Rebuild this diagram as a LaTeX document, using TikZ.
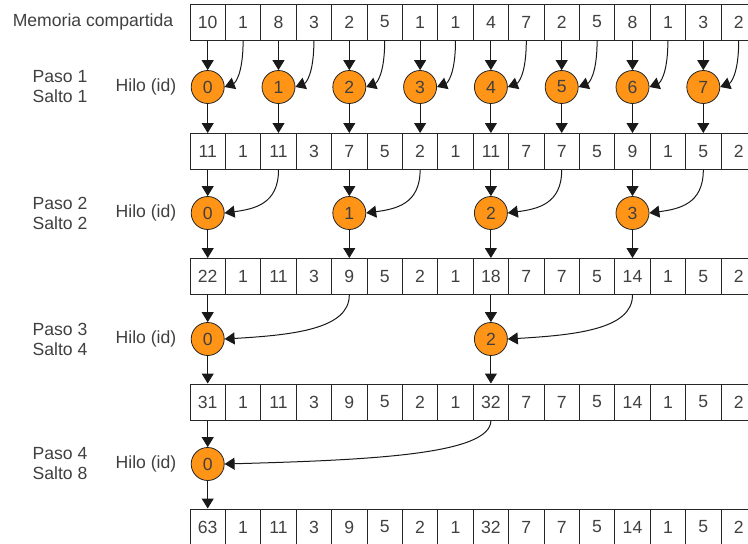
\documentclass[tikz,border=0pt]{standalone}
\usepackage{fontspec}
\setmainfont{Liberation Sans}
\usetikzlibrary{arrows.meta}
\definecolor{naranja}{RGB}{255,148,22}
\definecolor{texto}{RGB}{64,64,64}
\tikzset{
  celda/.style={draw=black!85, line width=1pt, minimum width=35.4pt, minimum height=36pt, inner sep=0pt, text=texto},
  hilo/.style={circle, draw=black!85, line width=0.8pt, fill=naranja, minimum size=33pt, inner sep=0pt, text=texto},
  flecha/.style={-{Triangle[length=10pt,width=12pt]}, line width=1pt, black!90},
}
\begin{document}
\begin{tikzpicture}[x=1pt,y=-1pt,font=\fontsize{17.6}{20}\selectfont]
\useasboundingbox (0,0) rectangle (748,544);
\clip (0,0) rectangle (748,544);
\node[text=texto] (memoria) at (93,22) {Memoria compartida};
% shared memory after each step
\foreach \r/\yy/\vals in {0/22/{10,1,8,3,2,5,1,1,4,7,2,5,8,1,3,2},
                          1/151.5/{11,1,11,3,7,5,2,1,11,7,7,5,9,1,5,2},
                          2/276.5/{22,1,11,3,9,5,2,1,18,7,7,5,14,1,5,2},
                          3/402/{31,1,11,3,9,5,2,1,32,7,7,5,14,1,5,2},
                          4/527/{63,1,11,3,9,5,2,1,32,7,7,5,14,1,5,2}} {
  \foreach \v [count=\c from 0] in \vals {
    \node[celda] (m\r-\c) at ({207.7+35.4*\c}, \yy) {\v};
  }
}
% threads: step, y, stride, ids
\foreach \s/\yy/\salto/\ids in {1/87/1/{0,1,2,3,4,5,6,7},
                                2/213/2/{0,1,2,3},
                                3/339/4/{0,2},
                                4/464/8/{0}} {
  \node[text=texto, align=center] (paso\s) at (60,\yy) {Paso \s\\Salto \salto};
  \node[text=texto] (hilo\s) at (146,\yy) {Hilo (id)};
  \pgfmathtruncatemacro\antes{\s-1}
  \pgfmathsetmacro\dx{0.55*(35.4*\salto-16.5)}
  \foreach \id [count=\i from 0] in \ids {
    \pgfmathtruncatemacro\dst{2*\salto*\i}
    \pgfmathtruncatemacro\src{2*\salto*\i+\salto}
    \node[hilo] (h\s-\i) at ({207.7+35.4*\dst}, \yy) {\id};
    \draw[flecha] (m\antes-\dst.south) -- (h\s-\i.north);
    \draw[flecha] (h\s-\i.south) -- (m\s-\dst.north);
    \draw[flecha] (m\antes-\src.south) .. controls +(0,34) and +(\dx,-4) .. (h\s-\i.east);
  }
}
\end{tikzpicture}
\end{document}
